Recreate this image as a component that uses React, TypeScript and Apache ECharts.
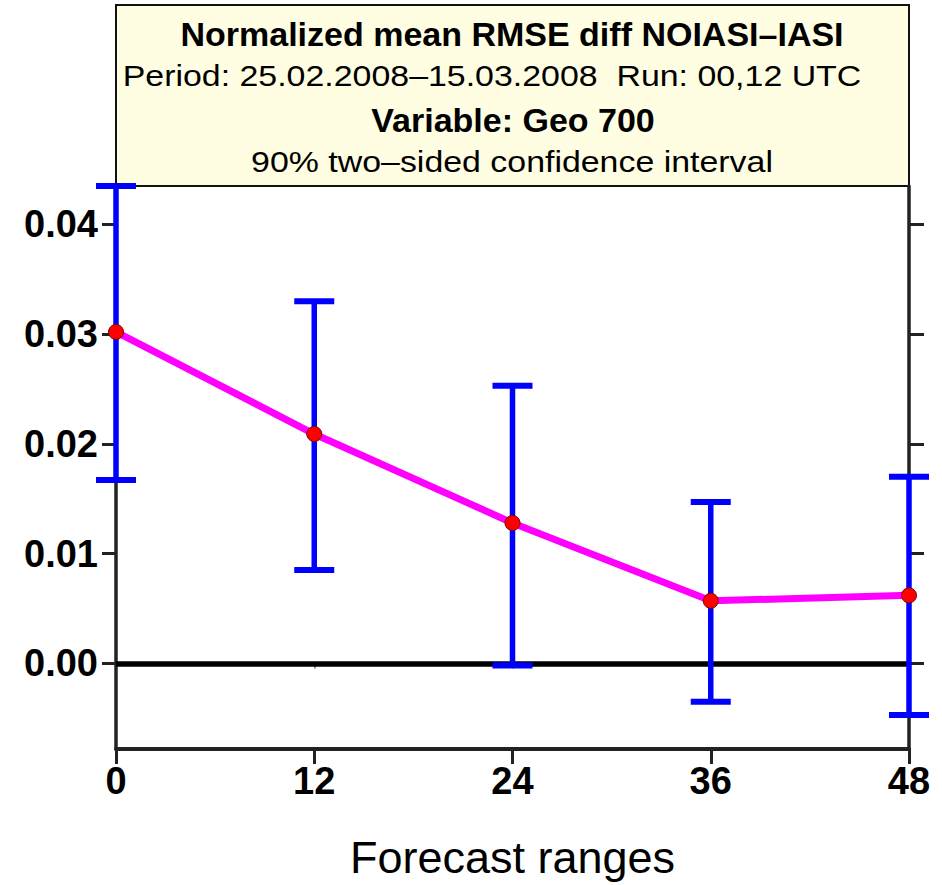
import React, { useEffect, useRef } from 'react';
import * as echarts from 'echarts';

const forecastRanges = [0, 12, 24, 36, 48];
const meanDiff = [0.0302, 0.0209, 0.0128, 0.0057, 0.0062];
const upperBound = [0.0435, 0.033, 0.0253, 0.0147, 0.017];
const lowerBound = [0.0167, 0.0085, -0.0002, -0.0035, -0.0047];
const yTickValues = [0, 0.01, 0.02, 0.03, 0.04];
const xTickValues = [0, 12, 24, 36, 48];
const titleLine1 = 'Normalized mean RMSE diff NOIASI\u2013IASI';
const titleLine2 = 'Period: 25.02.2008\u201315.03.2008  Run: 00,12 UTC';
const titleLine3 = 'Variable: Geo 700';
const titleLine4 = '90% two\u2013sided confidence interval';
const xAxisName = 'Forecast ranges';

const Y_MIN = -0.0078;
const Y_MAX = 0.0435;

export default function App() {
  const ref = useRef<HTMLDivElement>(null);

  useEffect(() => {
    if (!ref.current) return;
    const chart = echarts.init(ref.current, undefined, { renderer: 'svg' });
    const font = 'Liberation Sans, Arial, Helvetica, sans-serif';
    const axisColor = '#222';

    const lineData = forecastRanges.map((x, i) => [x, meanDiff[i]]);
    const errData = forecastRanges.map((x, i) => [x, lowerBound[i], upperBound[i]]);

    const option: any = {
      animation: false,
      backgroundColor: '#ffffff',
      grid: { left: 116, right: 33, top: 186, bottom: 133, containLabel: false },
      xAxis: [
        {
          type: 'value',
          position: 'bottom',
          min: 0,
          max: 48,
          interval: 12,
          name: xAxisName,
          nameLocation: 'middle',
          nameGap: 86,
          nameTextStyle: { fontFamily: font, fontSize: 45, color: '#000', verticalAlign: 'top' },
          axisLine: { show: true, onZero: false, lineStyle: { color: axisColor, width: 4 } },
          axisTick: { show: true, inside: false, length: 15, lineStyle: { color: axisColor, width: 3 }, customValues: xTickValues },
          axisLabel: {
            show: true,
            margin: 13,
            fontFamily: font,
            fontWeight: 'bold',
            fontSize: 38,
            color: '#000',
            customValues: xTickValues,
          },
          splitLine: { show: false },
        },
        {
          type: 'value',
          position: 'top',
          min: 0,
          max: 48,
          interval: 12,
          axisLine: { show: false },
          axisTick: { show: true, inside: true, length: 5, lineStyle: { color: '#888', width: 2 }, customValues: [12, 24, 36] },
          axisLabel: { show: false },
          splitLine: { show: false },
        },
      ],
      yAxis: [
        {
          type: 'value',
          position: 'left',
          min: Y_MIN,
          max: Y_MAX,
          axisLine: { show: true, onZero: false, lineStyle: { color: axisColor, width: 3.5 } },
          axisTick: { show: true, inside: false, length: 14, lineStyle: { color: axisColor, width: 3 }, customValues: yTickValues },
          axisLabel: {
            show: true,
            margin: 18,
            fontFamily: font,
            fontWeight: 'bold',
            fontSize: 38,
            color: '#000',
            customValues: yTickValues,
            formatter: (v: number) => v.toFixed(2),
          },
          splitLine: { show: false },
        },
        {
          type: 'value',
          position: 'right',
          min: Y_MIN,
          max: Y_MAX,
          axisLine: { show: true, onZero: false, lineStyle: { color: axisColor, width: 3.5 } },
          axisTick: { show: true, inside: false, length: 15, lineStyle: { color: axisColor, width: 3 }, customValues: yTickValues },
          axisLabel: { show: false },
          splitLine: { show: false },
        },
      ],
      graphic: [
        {
          type: 'group',
          z: 1,
          children: [
            {
              type: 'rect',
              shape: { x: 116, y: 5, width: 793, height: 181 },
              style: { fill: '#fffde2', stroke: '#111', lineWidth: 2 },
            },
            {
              type: 'text',
              x: 512,
              y: 34,
              style: { text: titleLine1, fontFamily: font, fontWeight: 'bold', fontSize: 34, fill: '#000', align: 'center', verticalAlign: 'middle' },
            },
            {
              type: 'text',
              x: 492,
              y: 76,
              scaleX: 1.13,
              style: { text: titleLine2, fontFamily: font, fontSize: 30, fill: '#000', align: 'center', verticalAlign: 'middle' },
            },
            {
              type: 'text',
              x: 513,
              y: 120,
              style: { text: titleLine3, fontFamily: font, fontWeight: 'bold', fontSize: 34, fill: '#000', align: 'center', verticalAlign: 'middle' },
            },
            {
              type: 'text',
              x: 512,
              y: 162,
              scaleX: 1.13,
              style: { text: titleLine4, fontFamily: font, fontSize: 30, fill: '#000', align: 'center', verticalAlign: 'middle' },
            },
          ],
        },
      ],
      series: [
        {
          type: 'custom',
          name: 'ci',
          xAxisIndex: 0,
          yAxisIndex: 0,
          z: 5,
          clip: false,
          encode: { x: 0, y: [1, 2] },
          data: errData,
          renderItem: (params: any, api: any) => {
            const x = api.value(0);
            const lo = api.coord([x, api.value(1)]);
            const hi = api.coord([x, api.value(2)]);
            const hw = 20;
            const style = { stroke: '#0000ff', lineWidth: 5.5 };
            const capStyle = { stroke: '#0000ff', lineWidth: 6 };
            return {
              type: 'group',
              children: [
                { type: 'line', shape: { x1: lo[0], y1: lo[1], x2: hi[0], y2: hi[1] }, style },
                { type: 'line', shape: { x1: hi[0] - hw, y1: hi[1], x2: hi[0] + hw, y2: hi[1] }, style: capStyle },
                { type: 'line', shape: { x1: lo[0] - hw, y1: lo[1], x2: lo[0] + hw, y2: lo[1] }, style: capStyle },
              ],
            };
          },
        },
        {
          type: 'line',
          name: 'mean',
          xAxisIndex: 0,
          yAxisIndex: 0,
          z: 6,
          data: lineData,
          symbol: 'circle',
          symbolSize: 15,
          itemStyle: { color: '#ff0000', borderColor: '#7a0000', borderWidth: 1 },
          lineStyle: { color: '#ff00ff', width: 7 },
          markLine: {
            silent: true,
            symbol: ['none', 'none'],
            label: { show: false },
            lineStyle: { color: '#000', width: 5.5, type: 'solid' },
            data: [{ yAxis: 0 }],
          },
        },
      ],
    };

    chart.setOption(option);
    return () => chart.dispose();
  }, []);

  return (
    <div
      ref={ref}
      style={{ position: 'fixed', left: 0, top: 0, width: 942, height: 885 }}
    />
  );
}
